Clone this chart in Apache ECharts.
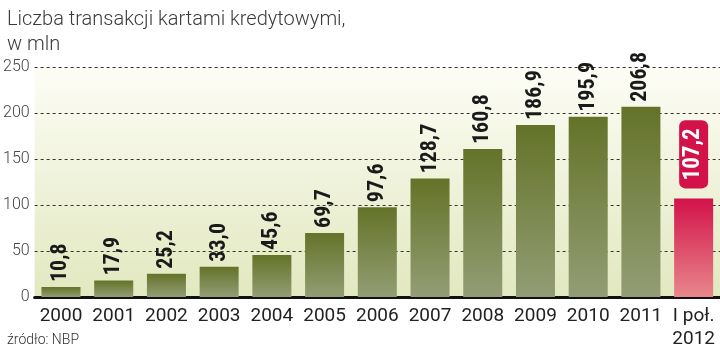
<!DOCTYPE html>
<html><head><meta charset="utf-8">
<script src="https://cdn.jsdelivr.net/npm/echarts@6/dist/echarts.min.js"></script>
<style>html,body{margin:0;padding:0;background:#fff}#c{width:720px;height:351px}</style>
</head><body><div id="c"></div>
<script>
const categories = ['2000','2001','2002','2003','2004','2005','2006','2007','2008','2009','2010','2011','I poł.\n2012'];
const values = [10.8, 17.9, 25.2, 33.0, 45.6, 69.7, 97.6, 128.7, 160.8, 186.9, 195.9, 206.8, 107.2];
const yTicks = [0, 50, 100, 150, 200, 250];
const highlightIndex = 12;

const olive = {type:'linear',x:0,y:0,x2:0,y2:1,colorStops:[{offset:0,color:'#647328'},{offset:1,color:'#939d75'}]};
const red = {type:'linear',x:0,y:0,x2:0,y2:1,colorStops:[{offset:0,color:'#d3124a'},{offset:1,color:'#e8878b'}]};
const labelFont = '"Roboto Condensed","Liberation Sans Narrow",Roboto,sans-serif';

const data = values.map((v,i)=>{
  const item = {value:v, itemStyle:{color: i===highlightIndex ? red : olive}};
  if(i===highlightIndex){
    item.label = {color:'#fff', backgroundColor:'#d3124a', borderRadius:6, fontSize:23,
      padding:[4,8,2,8], distance:10};
  }
  return item;
});

const chart = echarts.init(document.getElementById('c'), null, {renderer:'canvas'});
chart.setOption({
  animation:false,
  title:[
    {text:'Liczba transakcji kartami kredytowymi,\nw mln', left:2, top:2,
     textStyle:{fontFamily:'Roboto, sans-serif', fontWeight:300, fontSize:20, color:'#3a3a3a', lineHeight:25}},
    {text:'źródło: NBP', left:2, top:328,
     textStyle:{fontFamily:'Roboto, sans-serif', fontWeight:300, fontSize:14, color:'#333'}}
  ],
  grid:{left:32, right:0, top:67, bottom:54, show:true, borderWidth:0,
    backgroundColor:{type:'linear',x:0,y:0,x2:0,y2:1,colorStops:[{offset:0,color:'#fdfdf6'},{offset:1,color:'#e2e8bf'}]}},
  xAxis:{type:'category', data:categories,
    axisLine:{lineStyle:{color:'#111', width:3}},
    axisTick:{show:false},
    axisLabel:{fontFamily:'Roboto, sans-serif', fontSize:19, color:'#222', margin:8, lineHeight:23, interval:0}},
  yAxis:{type:'value', min:0, max:250, interval:50,
    axisLine:{show:false}, axisTick:{show:false},
    axisLabel:{fontFamily:'Roboto, sans-serif', fontWeight:300, fontSize:16, color:'#444', margin:5,
      customValues: yTicks},
    splitLine:{lineStyle:{color:'#333', type:[3,3], width:1}}},
  series:[{type:'bar', data:data, barWidth:'74%',
    label:{show:true, position:'top', rotate:90, align:'left', verticalAlign:'middle', distance:5,
      fontFamily:labelFont, fontWeight:'bold', fontSize:22, color:'#1a1a1a',
      formatter:p=>p.value.toFixed(1).replace('.',',')}}]
});
</script></body></html>
